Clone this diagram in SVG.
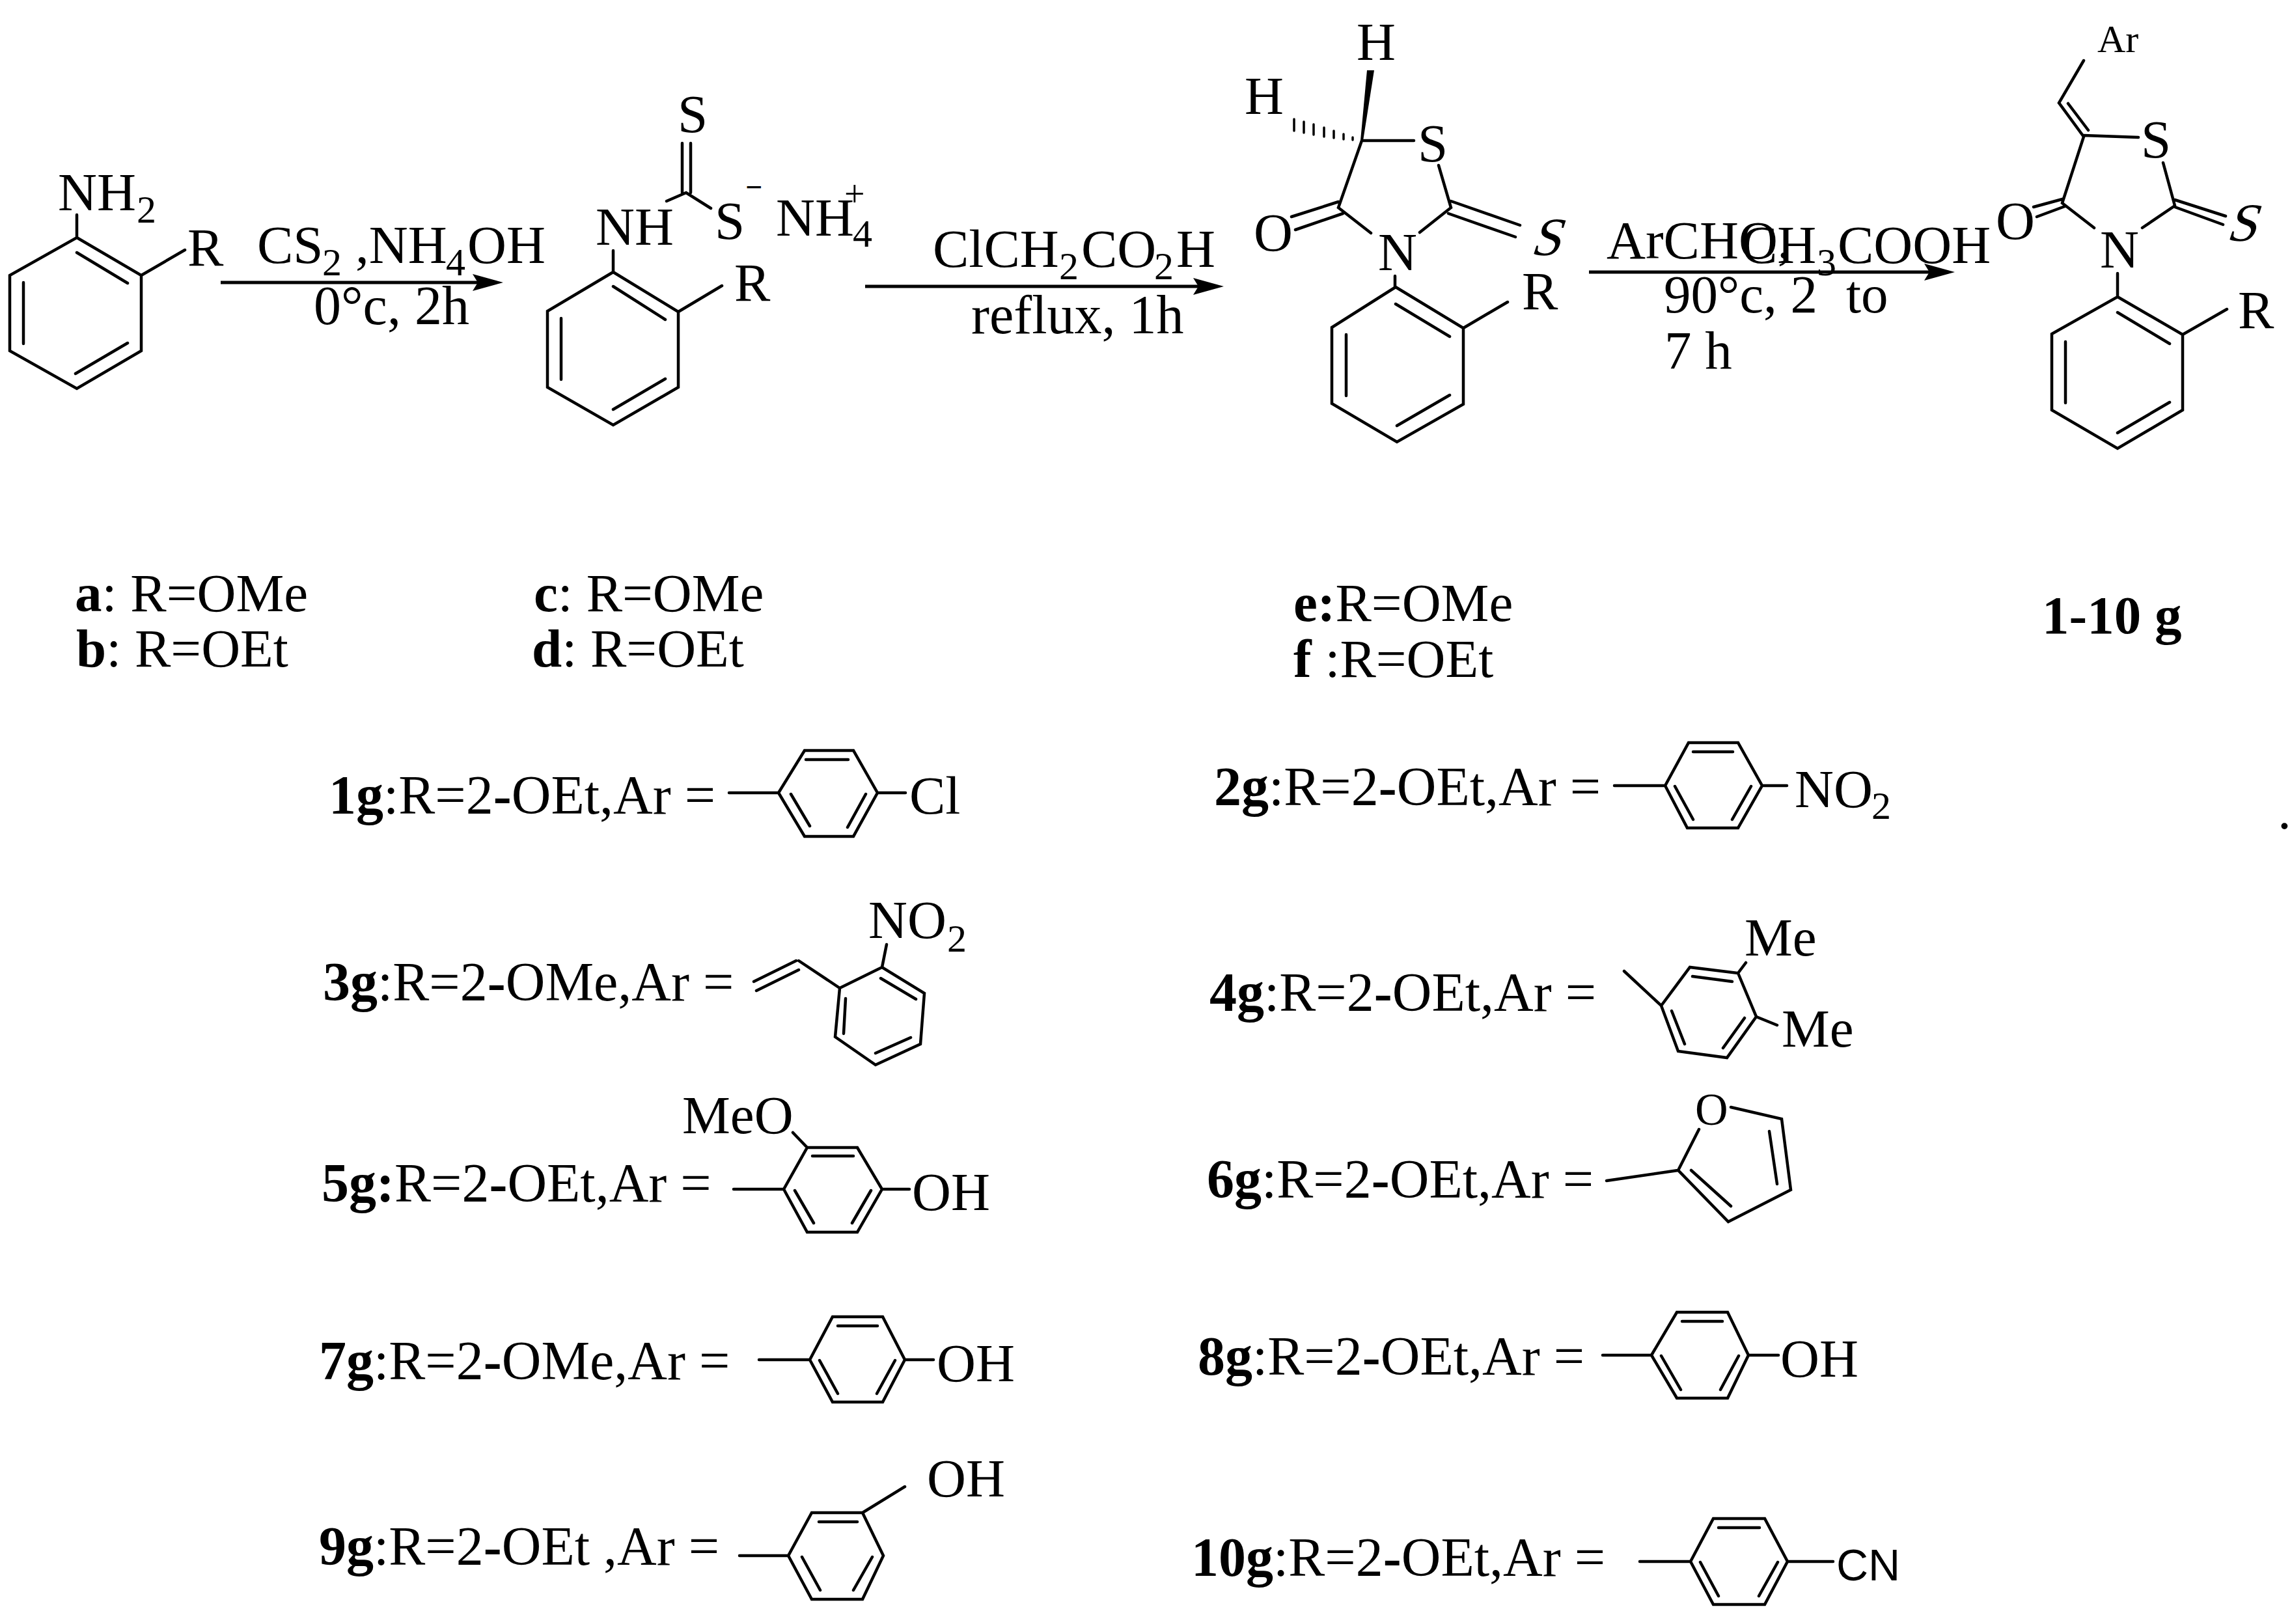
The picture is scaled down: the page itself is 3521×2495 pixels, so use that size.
<svg xmlns="http://www.w3.org/2000/svg" width="3521" height="2495" viewBox="0 0 3521 2495">
<style>
text{font-family:"Liberation Serif","Times New Roman",serif;font-size:83px;fill:#000}
text.l{font-size:84px}
.s{font-size:60px}
text.m{font-size:70px}
text.x{font-size:60px}
text.sans{font-family:"Liberation Sans",Arial,sans-serif;font-size:68px}
.bd{font-weight:bold}
.b{fill:none;stroke:#000;stroke-width:4.5;stroke-linecap:round;stroke-linejoin:miter}
.a{fill:none;stroke:#000;stroke-width:5;marker-end:url(#h)}
</style>
<defs>
<marker id="h" markerUnits="userSpaceOnUse" viewBox="0 0 47 26" markerWidth="47" markerHeight="26" refX="37" refY="13" orient="auto"><path d="M0 0L47 13L0 26L8 13Z" fill="#000"/></marker>
</defs>
<rect width="3521" height="2495" fill="#fff"/>
<g id="connectors">
<path class="a" d="M339 434H763"/>
<path class="a" d="M1329 440H1870"/>
<path class="a" d="M2441 418H2993"/>
</g>
<g id="aniline">
<path class="b" d="M118 365L217 423V539L118 597L15 539V423ZM118 388L196 435M36 434V528M116 574L196 527M118 330V365M217 423L284 384"/>
<text x="89" y="323">NH<tspan class="s" x="210" y="342">2</tspan></text>
<text x="288" y="408">R</text>
</g>
<g id="step1-label">
<text x="395" y="404">CS<tspan class="s" x="495" y="423">2</tspan><tspan x="546" y="404">,NH</tspan><tspan class="s" x="685" y="423">4</tspan><tspan x="718" y="404">OH</tspan></text>
<text class="l" x="482" y="498">0°c, 2h</text>
</g>
<g id="dithiocarbamate">
<path class="b" d="M942 418L1042 479V595L942 653L841 595V478ZM942 440L1022 491M862 489V583M942 629L1022 582M942 385V418M1042 479L1109 439M1024 309L1054 296L1092 320M1048 220V296M1061 220V296"/>
<text x="915" y="376">NH</text>
<text x="1128" y="462">R</text>
<text x="1041" y="203">S</text>
<text x="1098" y="367">S</text>
<text x="1145" y="303" style="font-size:46px;font-weight:bold">−</text>
<text x="1192" y="362">NH<tspan class="s" x="1310" y="379">4</tspan></text>
<text x="1297" y="317" style="font-size:56px">+</text>
</g>
<g id="step2-label">
<text x="1433" y="410">ClCH<tspan class="s" x="1627" y="429">2</tspan><tspan x="1661" y="410">CO</tspan><tspan class="s" x="1773" y="429">2</tspan><tspan x="1807" y="410">H</tspan></text>
<text class="l" x="1492" y="512">reflux, 1h</text>
</g>
<g id="rhodanine">
<path d="M2100 108L2111 108L2094 216L2090 216Z" fill="#000"/>
<path class="b" style="stroke-width:3.5" d="M1988 183V201M2003 187V204M2018 191V207M2034 196V210M2049 201V212M2064 206V214M2078 211V215"/>
<path class="b" d="M2092 216H2172M2210 254L2229 319L2181 357M2092 216L2056 319L2106 358M2056 310L1984 333M2063 328L1990 353M2229 309L2335 346M2225 328L2328 364M2143 424V441M2144 441L2248 504V621L2146 679L2046 620V503ZM2144 467L2227 517M2068 514V608M2146 654L2227 607M2248 504L2316 464"/>
<text x="2084" y="92">H</text>
<text x="1912" y="175">H</text>
<text x="2178" y="248">S</text>
<text x="2117" y="415">N</text>
<text x="1926" y="385">O</text>
<text transform="translate(2350,392) skewX(-18)">S</text>
<text x="2338" y="475">R</text>
</g>
<g id="step3-label">
<text x="2468" y="397">ArCHO,</text>
<text x="2675" y="404">CH<tspan class="s" x="2791" y="423">3</tspan><tspan x="2823" y="404">COOH</tspan></text>
<text x="2556" y="480">90°c, 2<tspan x="2836">to</tspan></text>
<text x="2557" y="566">7 h</text>
</g>
<g id="product">
<path class="b" d="M3201 93L3163 158L3201 210M3177 159L3208 200M3201 208L3285 211M3323 250L3341 316L3291 350M3201 210L3168 312L3217 350M3168 306L3124 318M3172 317L3129 333M3341 307L3419 332M3341 318L3415 345M3253 420V456M3253 456L3353 514V630L3253 689L3152 630V513ZM3253 480L3333 528M3173 525V619M3253 665L3333 618M3353 514L3421 475"/>
<text class="x" x="3222" y="80">Ar</text>
<text x="3289" y="242">S</text>
<text x="3226" y="411">N</text>
<text x="3066" y="367">O</text>
<text transform="translate(3419,370) skewX(-18)">S</text>
<text x="3438" y="504">R</text>
</g>
<g id="legend-start">
<text x="115" y="939"><tspan class="bd">a</tspan>: R=OMe</text>
<text x="117" y="1024"><tspan class="bd">b</tspan>: R=OEt</text>
<text x="820" y="939"><tspan class="bd">c</tspan>: R=OMe</text>
<text x="817" y="1024"><tspan class="bd">d</tspan>: R=OEt</text>
<text x="1987" y="954"><tspan class="bd">e:</tspan>R=OMe</text>
<text x="1987" y="1040"><tspan class="bd">f</tspan> :R=OEt</text>
<text x="3137" y="973" class="bd">1-10 g</text>
</g>
<g id="g1">
<text class="l" x="505" y="1250"><tspan class="bd">1g</tspan>:R=2<tspan class="bd">-</tspan>OEt,Ar =</text>
<path class="b" d="M1120 1218H1196L1236 1153H1311L1348 1218L1311 1285H1236L1196 1218M1238 1167H1303M1215 1220L1244 1269M1330 1220L1302 1271M1348 1218H1391"/>
<text x="1397" y="1250">Cl</text>
</g>
<g id="g2">
<text class="l" x="1865" y="1237"><tspan class="bd">2g</tspan>:R=2<tspan class="bd">-</tspan>OEt,Ar =</text>
<path class="b" d="M2480 1207H2558L2594 1141H2670L2707 1207L2670 1272H2592L2558 1207M2601 1155H2662M2573 1208L2601 1259M2690 1208L2661 1259M2707 1207H2745"/>
<text x="2757" y="1240">NO<tspan class="s" x="2875" y="1258">2</tspan></text>
</g>
<g id="g3">
<text class="l" x="496" y="1537"><tspan class="bd">3g</tspan>:R=2<tspan class="bd">-</tspan>OMe,Ar =</text>
<path class="b" d="M1158 1508L1223 1476M1162 1522L1227 1490M1227 1476L1290 1518L1355 1486L1420 1526L1414 1604L1345 1636L1283 1593L1290 1518M1353 1503L1407 1535M1345 1618L1399 1594M1299 1534L1296 1588M1362 1451L1355 1486"/>
<text x="1334" y="1441">NO<tspan class="s" x="1455" y="1462">2</tspan></text>
</g>
<g id="g4">
<text class="l" x="1858" y="1553"><tspan class="bd">4g</tspan>:R=2<tspan class="bd">-</tspan>OEt,Ar =</text>
<path class="b" d="M2495 1492L2552 1545L2596 1486L2670 1495L2698 1562L2653 1625L2578 1615L2552 1545M2600 1500L2661 1508M2568 1553L2588 1604M2680 1564L2647 1610M2670 1495L2682 1479M2698 1562L2730 1575"/>
<text x="2680" y="1468">Me</text>
<text x="2737" y="1608">Me</text>
</g>
<g id="g5">
<text class="l" x="494" y="1846"><tspan class="bd">5g:</tspan>R=2<tspan class="bd">-</tspan>OEt,Ar =</text>
<path class="b" d="M1127 1827H1204L1240 1763H1317L1355 1827L1317 1893H1240L1204 1827M1248 1776H1311M1221 1829L1250 1879M1338 1829L1309 1879M1218 1740L1240 1763M1355 1827H1397"/>
<text x="1048" y="1741">MeO</text>
<text x="1401" y="1859">OH</text>
</g>
<g id="g6">
<text class="l" x="1854" y="1840"><tspan class="bd">6g</tspan>:R=2<tspan class="bd">-</tspan>OEt,Ar =</text>
<path class="b" d="M2468 1814L2578 1798L2655 1877L2751 1828L2737 1719L2659 1701M2578 1798L2610 1735M2598 1798L2659 1853M2718 1738L2730 1819"/>
<text class="m" x="2604" y="1728">O</text>
</g>
<g id="g7">
<text class="l" x="490" y="2119"><tspan class="bd">7g</tspan>:R=2<tspan class="bd">-</tspan>OMe,Ar =</text>
<path class="b" d="M1166 2089H1244L1279 2023H1356L1390 2089L1356 2154H1279L1244 2089M1287 2037H1348M1259 2090L1287 2141M1375 2090L1347 2141M1390 2089H1434"/>
<text x="1439" y="2122">OH</text>
</g>
<g id="g8">
<text class="l" x="1840" y="2112"><tspan class="bd">8g</tspan>:R=2<tspan class="bd">-</tspan>OEt,Ar =</text>
<path class="b" d="M2462 2082H2537L2576 2016H2654L2686 2082L2654 2148H2576L2537 2082M2584 2030H2646M2552 2083L2582 2135M2671 2083L2643 2135M2686 2082H2732"/>
<text x="2735" y="2115">OH</text>
</g>
<g id="g9">
<text class="l" x="490" y="2404"><tspan class="bd">9g</tspan>:R=2<tspan class="bd">-</tspan>OEt ,Ar =</text>
<path class="b" d="M1136 2390H1211L1247 2324H1325L1357 2390L1325 2457H1247L1211 2390M1258 2338H1317M1232 2392L1260 2443M1340 2392L1311 2443M1325 2324L1390 2284"/>
<text x="1424" y="2299">OH</text>
</g>
<g id="g10">
<text class="l" x="1830" y="2421"><tspan class="bd">10g</tspan>:R=2<tspan class="bd">-</tspan>OEt,Ar =</text>
<path class="b" d="M2519 2399H2597L2632 2333H2711L2746 2399L2711 2465H2632L2597 2399M2640 2347H2703M2612 2400L2640 2452M2731 2400L2702 2452M2746 2399H2816"/>
<text class="sans" x="2821" y="2428">CN</text>
</g>
<text id="dot" x="3499" y="1273">.</text>
</svg>
